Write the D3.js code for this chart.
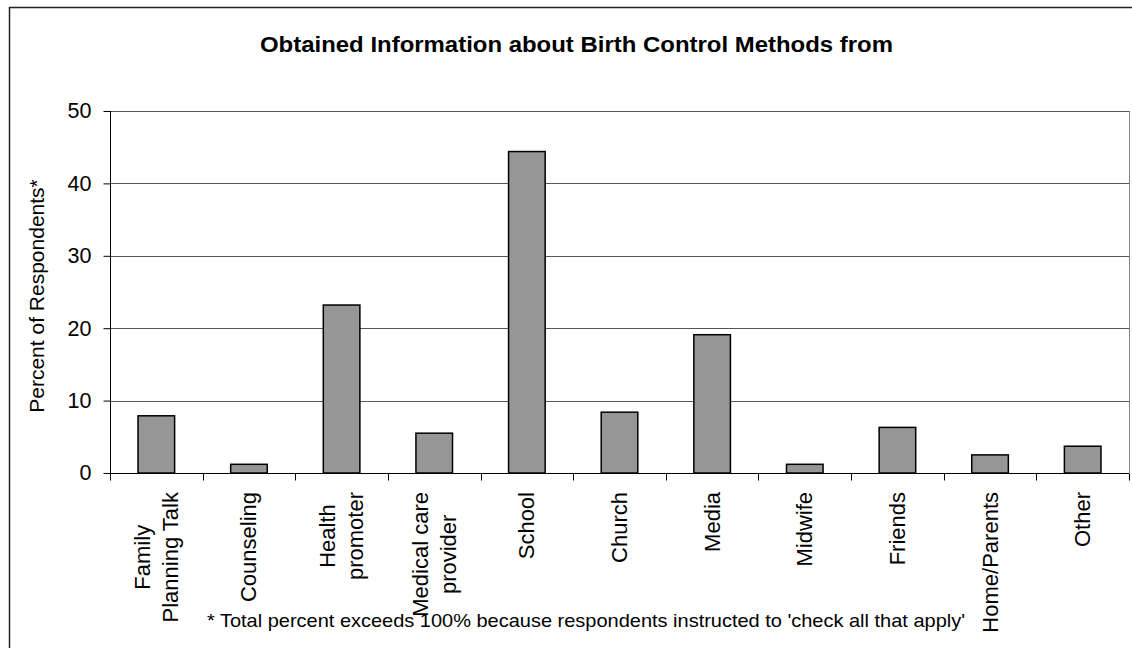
<!DOCTYPE html>
<meta charset="utf-8">
<style>
  body { margin: 0; background: #fff; }
  svg { display: block; font-family: "Liberation Sans", Arial, sans-serif; }
</style>
<svg width="1132" height="648"></svg>
<script src="https://d3js.org/d3.v7.min.js"></script>
<script>
// data
const categories = ["Family\nPlanning Talk", "Counseling", "Health\npromoter", "Medical care\nprovider",
  "School", "Church", "Media", "Midwife", "Friends", "Home/Parents", "Other"];
const percents = [7.9, 1.2, 23.2, 5.5, 44.4, 8.4, 19.1, 1.2, 6.3, 2.5, 3.7];
const yTicks = [0, 10, 20, 30, 40, 50];

const titleText = "Obtained Information about Birth Control Methods from";
const yTitle = "Percent of Respondents*";
const footnote = "* Total percent exceeds 100% because respondents instructed to 'check all that apply'";

const margin = {top: 111, right: 3, bottom: 175, left: 110};
const width = 1132, height = 648;

const svg = d3.select("svg");

// outer chart frame (runs off the right/bottom of the picture)
svg.append("rect")
    .attr("x", 9.5).attr("y", 7.5)
    .attr("width", 1200).attr("height", 700)
    .attr("fill", "none")
    .attr("stroke", "#222")
    .attr("stroke-width", 1.5);

const x = d3.scaleBand(categories, [margin.left, width - margin.right]);
const barX = d3.scaleBand(categories, [margin.left, width - margin.right])
    .paddingInner(0.605)
    .paddingOuter(0.3025);
const y = d3.scaleLinear([0, 50], [height - margin.bottom, margin.top]);

// grid lines
svg.append("g")
    .selectAll("line")
    .data(yTicks.slice(1))
    .join("line")
      .attr("x1", margin.left)
      .attr("x2", width - margin.right)
      .attr("y1", d => Math.round(y(d)) + 0.5)
      .attr("y2", d => Math.round(y(d)) + 0.5)
      .attr("stroke", "#555");

// plot area right border
svg.append("line")
    .attr("x1", width - margin.right + 0.5)
    .attr("x2", width - margin.right + 0.5)
    .attr("y1", y(50))
    .attr("y2", y(0))
    .attr("stroke", "#888");

// bars
svg.append("g")
    .selectAll("rect")
    .data(percents)
    .join("rect")
      .attr("x", (d, i) => barX(categories[i]))
      .attr("width", barX.bandwidth())
      .attr("y", d => y(d))
      .attr("height", d => y(0) - y(d))
      .attr("fill", "#969696")
      .attr("stroke", "#000")
      .attr("stroke-width", 1.5);

// y axis
const yAxis = svg.append("g")
    .attr("transform", `translate(${margin.left + 0.5},0)`)
    .call(d3.axisLeft(y).tickValues(yTicks).tickSize(7).tickPadding(12).tickFormat(d3.format("d")));
yAxis.select(".domain").attr("d", `M0,${y(50)}V${y(0) + 6}`).attr("stroke", "#000");
yAxis.selectAll(".tick line").attr("stroke", "#000");
yAxis.selectAll(".tick text")
    .attr("font-size", 21.5)
    .attr("fill", "#000")
    .attr("font-family", "Liberation Sans, Arial, sans-serif");

// x axis line with ticks between categories
const xAxis = svg.append("g")
    .attr("transform", `translate(0,${Math.round(y(0)) + 0.5})`);
xAxis.append("line")
    .attr("x1", margin.left).attr("x2", width - margin.right)
    .attr("stroke", "#000");
xAxis.selectAll("line.tick")
    .data(categories.map(c => x(c)).concat([width - margin.right]))
    .join("line")
      .attr("class", "tick")
      .attr("x1", d => Math.round(d) + 0.5)
      .attr("x2", d => Math.round(d) + 0.5)
      .attr("y2", 7)
      .attr("stroke", "#000");

// category labels, rotated, lines centred on each other
const labelTop = 492;
const lineGap = 28;
const labels = svg.append("g")
    .attr("font-size", 22)
    .selectAll("g")
    .data(categories)
    .join("g");

labels.each(function(c) {
  const g = d3.select(this);
  const lines = c.split("\n");
  const t = g.selectAll("text")
    .data(lines)
    .join("text")
      .attr("text-anchor", "middle")
      .attr("dominant-baseline", "central")
      .attr("y", (d, i) => (i - (lines.length - 1) / 2) * lineGap)
      .text(d => d);
  let maxW = 0;
  t.each(function() { maxW = Math.max(maxW, this.getComputedTextLength()); });
  g.attr("transform", `translate(${x(c) + x.bandwidth() / 2},${labelTop + maxW / 2}) rotate(-90)`);
});

// y axis title
svg.append("text")
    .attr("transform", `translate(44,${(y(0) + y(50)) / 2 + 4}) rotate(-90)`)
    .attr("text-anchor", "middle")
    .attr("font-size", 21)
    .text(yTitle);

// title
svg.append("text")
    .attr("x", 576.5)
    .attr("y", 52)
    .attr("text-anchor", "middle")
    .attr("font-size", 22.5)
    .attr("font-weight", "bold")
    .attr("textLength", 633)
    .attr("lengthAdjust", "spacingAndGlyphs")
    .text(titleText);

// footnote
svg.append("text")
    .attr("x", 586)
    .attr("y", 627)
    .attr("text-anchor", "middle")
    .attr("font-size", 18.5)
    .attr("textLength", 758)
    .attr("lengthAdjust", "spacingAndGlyphs")
    .text(footnote);
</script>
